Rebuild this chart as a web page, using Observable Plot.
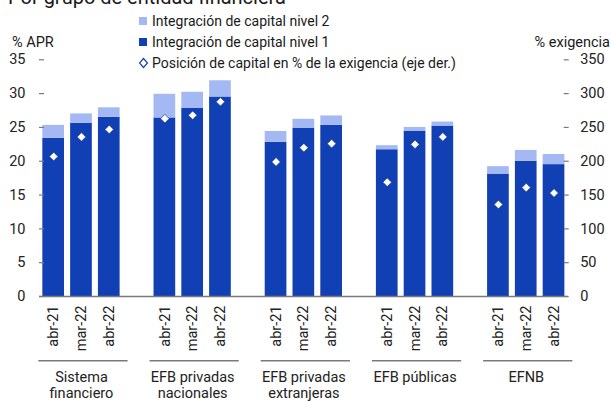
<!DOCTYPE html>
<html><head><meta charset="utf-8">
<script src="https://cdn.jsdelivr.net/npm/d3@7"></script>
<script src="https://cdn.jsdelivr.net/npm/@observablehq/plot@0.6"></script>
<style>
body{margin:0;background:#fff;font-family:Roboto,sans-serif;}
#wrap{position:relative;width:611px;height:401px;overflow:hidden;}
.t{position:absolute;white-space:nowrap;color:#1a1a1a;line-height:1;}
.row{position:absolute;left:139px;height:20px;display:flex;align-items:center;font-size:14px;color:#1a1a1a;white-space:nowrap;}
.sq{width:8px;height:8px;margin-right:5px;}
</style></head><body><div id="wrap"></div>
<script>
// ---- data ----
const groups = ["Sistema\nfinanciero", "EFB privadas\nnacionales", "EFB privadas\nextranjeras", "EFB públicas", "EFNB"];
const periods = ["abr-21", "mar-22", "abr-22"];
const nivel1 = [23.4, 25.6, 26.5, 26.4, 27.8, 29.5, 22.8, 24.9, 25.3, 21.7, 24.4, 25.2, 18.1, 20.0, 19.5];
const nivel2 = [1.9, 1.4, 1.4, 3.5, 2.4, 2.4, 1.6, 1.3, 1.4, 0.6, 0.6, 0.6, 1.1, 1.6, 1.5];
const posicion = [207, 236, 247, 263, 268, 288, 199, 220, 226, 169, 225, 236, 136, 161, 153];
const leftTicks = [0, 5, 10, 15, 20, 25, 30, 35];
const rightTickLabels = ["0", "50", "100", "150", "200", "250", "300", "350"];
const seriesNames = ["Integración de capital nivel 2", "Integración de capital nivel 1", "Posición de capital en % de la exigencia (eje der.)"];
const title = "Por grupo de entidad financiera";
const leftAxisTitle = "% APR";
const rightAxisTitle = "% exigencia";

const DARK = "#1040b4", LIGHT = "#a4b9f4", GRAY = "#7a7a7a";

// ---- build tables ----
const rows = [];
const domainKeys = [];
groups.forEach((g, gi) => {
  periods.forEach((p, pi) => {
    const i = gi * periods.length + pi;
    const key = gi + "|" + pi;
    domainKeys.push(key);
    rows.push({key, group: g, period: p, n1: nivel1[i], n2: nivel2[i], pos: posicion[i]});
  });
  if (gi < groups.length - 1) domainKeys.push("gap" + gi);
});
const barKeys = rows.map(d => d.key);
const periodOf = Object.fromEntries(rows.map(d => [d.key, d.period]));
const groupRows = groups.map((g, gi) => ({label: g, first: gi + "|0", mid: gi + "|1", last: gi + "|2"}));

const plot = Plot.plot({
  width: 611, height: 401,
  marginLeft: 39, marginRight: 43.3, marginTop: 59.3, marginBottom: 105,
  style: {fontFamily: "Roboto, sans-serif", fontSize: "14.5px", color: "#222", background: "transparent"},
  x: {type: "band", domain: domainKeys, paddingInner: 0.22, paddingOuter: 0.12, round: false, axis: null},
  y: {domain: [0, 35], axis: null},
  marks: [
    Plot.barY(rows, {x: "key", y1: 0, y2: "n1", fill: DARK}),
    Plot.barY(rows, {x: "key", y1: "n1", y2: d => d.n1 + d.n2, fill: LIGHT}),
    Plot.ruleY([0], {stroke: GRAY, strokeWidth: 1.5}),
    Plot.axisY({anchor: "left", ticks: leftTicks, tickSize: -5, tickFormat: () => "", stroke: GRAY, strokeWidth: 1.2, line: true, label: null}),
    Plot.axisY({anchor: "left", ticks: leftTicks, tickSize: 0, tickPadding: 14, label: null, fill: "#222"}),
    Plot.axisY({anchor: "right", ticks: leftTicks, tickSize: -5, tickFormat: () => "", stroke: GRAY, strokeWidth: 1.2, line: true, label: null}),
    Plot.axisY({anchor: "right", ticks: leftTicks, tickSize: 0, tickPadding: 12, tickFormat: (d, i) => rightTickLabels[i], label: null, fill: "#222"}),
    Plot.axisX({ticks: barKeys, tickFormat: k => periodOf[k], tickRotate: -90, tickSize: 0, tickPadding: 9, label: null, fill: "#222"}),
    Plot.dot(rows, {x: "key", y: d => d.pos / 10, symbol: "diamond2", r: 3.9, fill: "white", stroke: "#1a3a8a", strokeWidth: 0.7}),
    Plot.text(groupRows, {x: "mid", y: 0, text: "label", dy: 74, lineAnchor: "top", lineHeight: 1.1, fill: "#222", fontSize: 14.5})
  ]
});
const wrap = document.getElementById("wrap");
plot.style.position = "absolute"; plot.style.left = "0"; plot.style.top = "0";
wrap.appendChild(plot);

// group separator lines from the x scale
const xs = plot.scale("x");
const svg = d3.select(plot);
svg.append("g").selectAll("line").data(groupRows).join("line")
  .attr("x1", d => xs.apply(d.first) - 4)
  .attr("x2", d => xs.apply(d.last) + xs.bandwidth + 8)
  .attr("y1", 360.7).attr("y2", 360.7)
  .attr("stroke", GRAY).attr("stroke-width", 1.5);

// texts
function addText(txt, left, top, size, extra) {
  const el = document.createElement("div");
  el.className = "t"; el.textContent = txt;
  el.style.left = left + "px"; el.style.top = top + "px"; el.style.fontSize = size + "px";
  if (extra) Object.assign(el.style, extra);
  wrap.appendChild(el);
  return el;
}
addText(title, 8, -13, 20);
addText(leftAxisTitle, 12, 36, 14.5);
addText(rightAxisTitle, 0, 36, 14.5, {left: "auto", right: "1px"});

// legend
const legendCenters = [20.7, 41.7, 63.3];
seriesNames.forEach((name, i) => {
  const r = document.createElement("div");
  r.className = "row";
  r.style.top = (legendCenters[i] - 10) + "px";
  let marker;
  if (i < 2) {
    marker = `<span class="sq" style="background:${i === 0 ? LIGHT : DARK}"></span>`;
  } else {
    marker = `<svg width="13" height="12" style="margin-right:0px"><path d="M4.5,1.5 L8.5,6 L4.5,10.5 L0.5,6 Z" fill="white" stroke="${DARK}" stroke-width="1.2"/></svg>`;
  }
  r.innerHTML = marker + `<span>${name}</span>`;
  wrap.appendChild(r);
});
</script>
</body></html>
